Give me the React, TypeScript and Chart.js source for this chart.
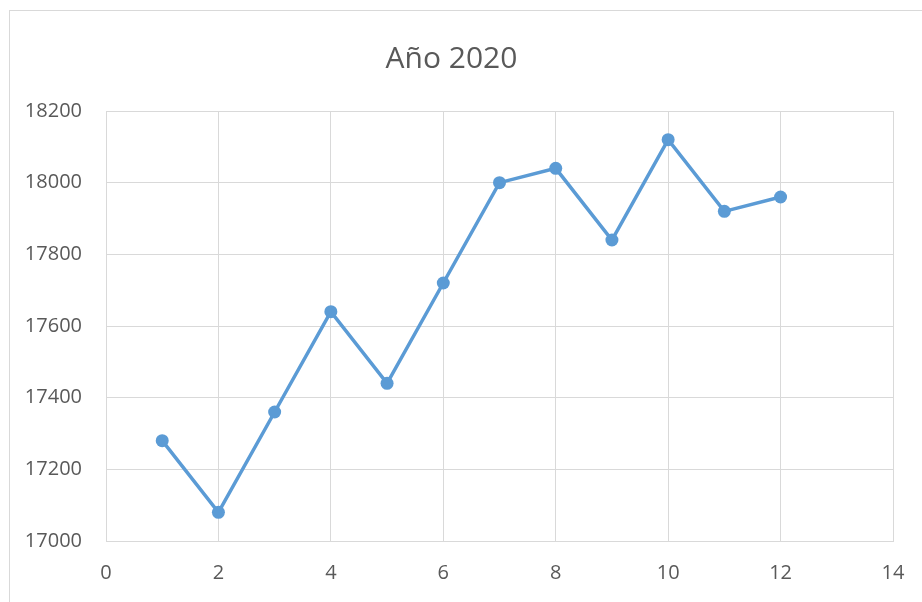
import React, { useEffect, useRef } from "react";
import { Chart, registerables } from "chart.js";

Chart.register(...registerables);

// Monthly values for 2020 (month number on x, value on y)
const months: number[] = [1, 2, 3, 4, 5, 6, 7, 8, 9, 10, 11, 12];
const values: number[] = [17280, 17080, 17360, 17640, 17440, 17720, 18000, 18040, 17840, 18120, 17920, 17960];

const titleText = "Año 2020";
const xRange = { min: 0, max: 14, step: 2 };
const yRange = { min: 17000, max: 18200, step: 200 };

const LINE_COLOR = "#5b9bd5";
const GRID_COLOR = "#d9d9d9";
const TEXT_COLOR = "#595959";
const FONT = "'Open Sans', 'Noto Sans', sans-serif";

const CANVAS_W = 934;
const CANVAS_H = 620;

export default function App() {
  const canvasRef = useRef<HTMLCanvasElement | null>(null);

  useEffect(() => {
    const canvas = canvasRef.current;
    if (!canvas) return;
    const points = months.map((m, i) => ({ x: m, y: values[i] }));
    const chart = new Chart(canvas, {
      type: "line",
      data: {
        datasets: [
          {
            label: titleText,
            data: points,
            borderColor: LINE_COLOR,
            backgroundColor: LINE_COLOR,
            borderWidth: 3.5,
            pointRadius: 6.5,
            pointBorderWidth: 0,
            pointBackgroundColor: LINE_COLOR,
            tension: 0,
          },
        ],
      },
      options: {
        responsive: false,
        animation: false,
        layout: { padding: { left: 0, right: 51, top: 0, bottom: 0 } },
        plugins: {
          legend: { display: false },
          tooltip: { enabled: false },
          title: {
            display: true,
            text: titleText,
            color: TEXT_COLOR,
            font: { family: FONT, size: 30, weight: "normal", lineHeight: 1.2 },
            padding: { top: 30, bottom: 34 },
          },
        },
        scales: {
          x: {
            type: "linear",
            min: xRange.min,
            max: xRange.max,
            afterFit: (scale: any) => {
              scale.height = CANVAS_H - 530;
            },
            ticks: {
              stepSize: xRange.step,
              color: TEXT_COLOR,
              padding: 20,
              font: { family: FONT, size: 20 },
              maxRotation: 0,
              callback: (v: any) => String(v),
            },
            grid: { color: GRID_COLOR, lineWidth: 1, drawTicks: false },
            border: { color: GRID_COLOR, width: 1 },
          },
          y: {
            type: "linear",
            min: yRange.min,
            max: yRange.max,
            afterFit: (scale: any) => {
              scale.width = 96;
            },
            ticks: {
              stepSize: yRange.step,
              color: TEXT_COLOR,
              padding: 24,
              font: { family: FONT, size: 20 },
              callback: (v: any) => String(v),
            },
            grid: { color: GRID_COLOR, lineWidth: 1, drawTicks: false },
            border: { color: GRID_COLOR, width: 1 },
          },
        },
      },
    });
    return () => chart.destroy();
  }, []);

  return (
    <div
      style={{
        position: "fixed",
        left: 0,
        top: 0,
        width: 922,
        height: 602,
        overflow: "hidden",
        background: "#ffffff",
      }}
    >
      <div
        style={{
          position: "absolute",
          left: 9,
          top: 10,
          width: CANVAS_W,
          height: CANVAS_H,
          border: "1.5px solid #d9d9d9",
          background: "#ffffff",
        }}
      >
        <canvas
          ref={canvasRef}
          width={CANVAS_W}
          height={CANVAS_H}
          style={{ display: "block", width: CANVAS_W, height: CANVAS_H }}
        />
      </div>
    </div>
  );
}
